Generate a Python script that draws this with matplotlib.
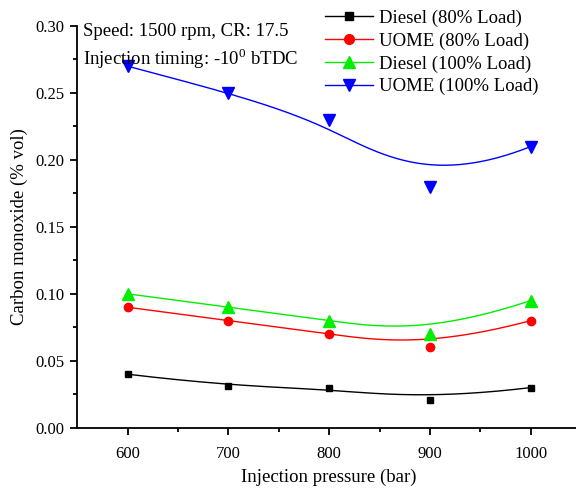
import matplotlib
matplotlib.use("Agg")
import matplotlib.pyplot as plt
import numpy as np

plt.rcParams["font.family"] = ["Liberation Serif", "DejaVu Serif"]
plt.rcParams["mathtext.fontset"] = "custom"
plt.rcParams["mathtext.rm"] = "Liberation Serif"

# --- Data ---
pressure = [600, 700, 800, 900, 1000]
diesel_80 = [0.040, 0.031, 0.030, 0.021, 0.030]
uome_80 = [0.090, 0.080, 0.070, 0.060, 0.080]
diesel_100 = [0.100, 0.090, 0.080, 0.070, 0.095]
uome_100 = [0.270, 0.250, 0.230, 0.180, 0.210]

series = [
    ("Diesel (80% Load)", diesel_80, "black", "s", 5),
    ("UOME (80% Load)", uome_80, "red", "o", 6),
    ("Diesel (100% Load)", diesel_100, "#00ee00", "^", 8),
    ("UOME (100% Load)", uome_100, "blue", "v", 8),
]


def basis(i, k, t, knots):
    if k == 0:
        return ((knots[i] <= t) & (t < knots[i + 1])).astype(float)
    a = 0.0
    d1 = knots[i + k] - knots[i]
    if d1 > 0:
        a = (t - knots[i]) / d1 * basis(i, k - 1, t, knots)
    b = 0.0
    d2 = knots[i + k + 1] - knots[i + 1]
    if d2 > 0:
        b = (knots[i + k + 1] - t) / d2 * basis(i + 1, k - 1, t, knots)
    return a + b


def bspline(ctrl, n=200, k=3):
    # clamped B-spline with the data points as control points (Origin style)
    ctrl = np.asarray(ctrl, dtype=float)
    m = len(ctrl)
    inner = np.linspace(0, 1, m - k + 1)[1:-1]
    knots = np.concatenate([np.zeros(k + 1), inner, np.ones(k + 1)])
    t = np.linspace(0, 1, n)
    t[-1] = 1 - 1e-12
    out = np.zeros(n)
    for i in range(m):
        out += ctrl[i] * basis(i, k, t, knots)
    return out


fig = plt.figure(figsize=(5.76, 4.9), dpi=100)
ax = fig.add_axes([0.134, 0.127, 0.875, 0.82])

for label, vals, color, mk, ms in series:
    ax.plot(bspline(pressure), bspline(vals), color=color, lw=1.0)
    ax.plot(pressure, vals, linestyle="none", marker=mk, color=color, ms=ms)
    ax.plot([], [], color=color, lw=1.0, marker=mk, ms=ms + 1, label=label)

ax.set_xlim(550, 1050)
ax.set_ylim(0, 0.30)
ax.set_xticks(pressure)
ax.set_xticks([650, 750, 850, 950, 1050], minor=True)
ax.set_yticks(np.arange(0, 0.31, 0.05))
ax.set_yticks(np.arange(0.025, 0.3, 0.05), minor=True)
ax.yaxis.set_major_formatter(plt.FormatStrFormatter("%.2f"))

for s in ["top", "right"]:
    ax.spines[s].set_visible(False)
for s in ["left", "bottom"]:
    ax.spines[s].set_linewidth(1.3)
ax.tick_params(which="major", direction="out", length=5, width=1.3, labelsize=12, pad=4)
ax.tick_params(which="minor", direction="out", length=3, width=1.3)
ax.tick_params(axis="x", pad=8)

ax.set_xlabel("Injection pressure (bar)", fontsize=13.5, labelpad=5)
ax.set_ylabel("Carbon monoxide (% vol)", fontsize=13.5, labelpad=5)

ax.text(0.012, 0.985, "Speed: 1500 rpm, CR: 17.5", transform=ax.transAxes,
        fontsize=13.5, va="center", ha="left")
ax.text(0.012, 0.92, r"Injection timing: -10$^0$ bTDC", transform=ax.transAxes,
        fontsize=13.5, va="center", ha="left")

ax.legend(loc="upper right", bbox_to_anchor=(0.93, 1.06), frameon=False, fontsize=13.5,
          handlelength=2.6, handletextpad=0.3, labelspacing=0.3, borderaxespad=0)

fig.savefig("out.png", dpi=100)
